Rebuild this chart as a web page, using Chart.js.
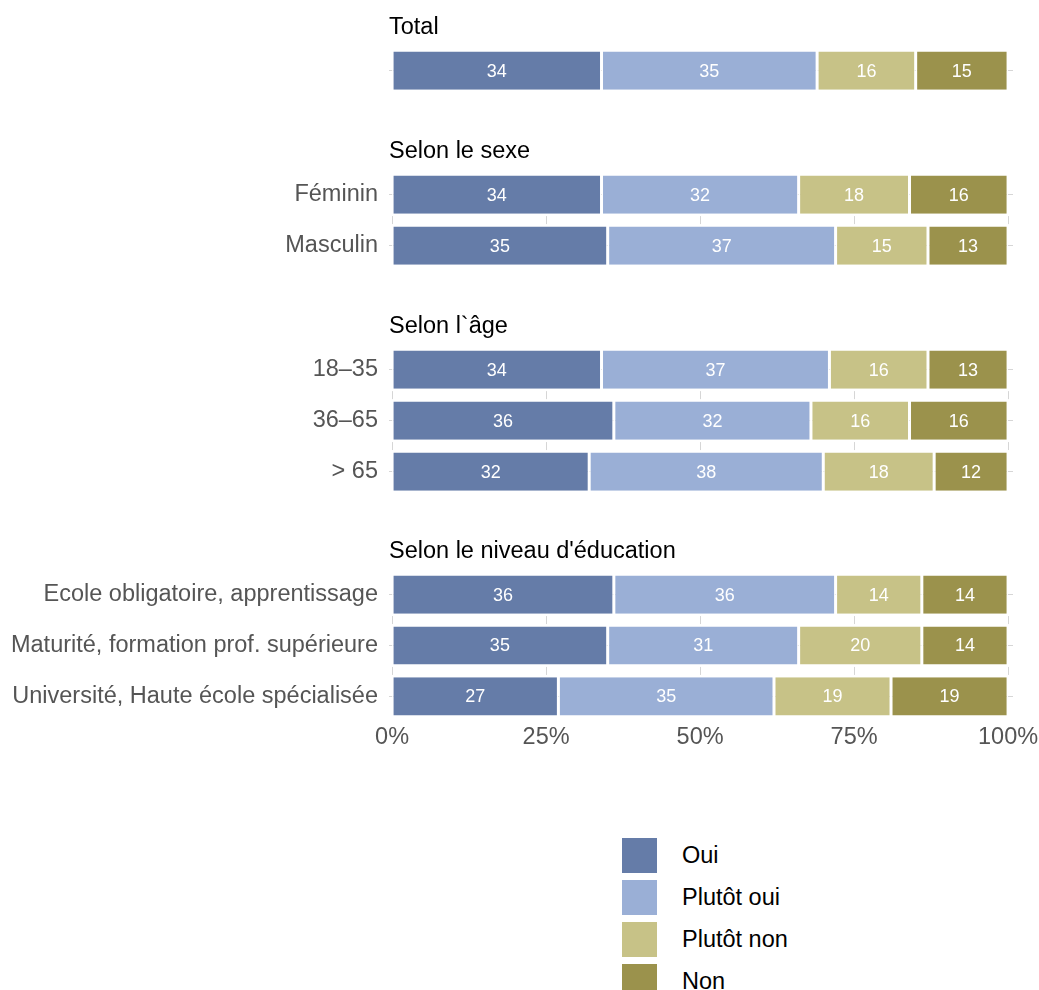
<!DOCTYPE html>
<html>
<head>
<meta charset="utf-8">
<script src="https://cdn.jsdelivr.net/npm/chart.js@4.4.0/dist/chart.umd.min.js"></script>
<style>
  body { margin: 0; background: #fff; width: 1039px; height: 990px; position: relative; overflow: hidden;
         font-family: "Liberation Sans", Arial, sans-serif; }
  canvas { position: absolute; left: 0; }
  #legend { position: absolute; left: 622px; top: 834px; }
  .item { display: flex; align-items: center; height: 42px; font-size: 23.5px; color: #000; }
  .sw { width: 35px; height: 35px; margin-right: 25px; }
</style>
</head>
<body>
<canvas id="f0"></canvas>
<canvas id="f1"></canvas>
<canvas id="f2"></canvas>
<canvas id="f3"></canvas>
<div id="legend"></div>
<script>
// donnees
const facetTitles = ["Total", "Selon le sexe", "Selon l`âge", "Selon le niveau d'éducation"];
const rowLabels = [
    [""],
    ["Féminin", "Masculin"],
    ["18–35", "36–65", "> 65"],
    ["Ecole obligatoire, apprentissage", "Maturité, formation prof. supérieure", "Université, Haute école spécialisée"]
];
const seriesNames = ["Oui", "Plutôt oui", "Plutôt non", "Non"];
const oui       = [[34], [34, 35], [34, 36, 32], [36, 35, 27]];
const plutotOui = [[35], [32, 37], [37, 32, 38], [36, 31, 35]];
const plutotNon = [[16], [18, 15], [16, 16, 18], [14, 20, 19]];
const non       = [[15], [16, 13], [13, 16, 12], [14, 14, 19]];
const xTicks = [0, 25, 50, 75, 100];

const seriesValues = [oui, plutotOui, plutotNon, non];
const seriesColors = ['#657ca8', '#9aafd6', '#c7c287', '#9b924c'];

const FONT = '"Liberation Sans", Arial, sans-serif';
const facetTops = [7, 131, 306, 531];
const ROW = 51;
const TITLE_BLOCK = 38.2;
const AXIS_BLOCK = 32;

// petits traits de grille visibles entre les barres
const gapGrid = {
    id: 'gapGrid',
    beforeDatasetsDraw(chart) {
        const { ctx, scales: { x, y } } = chart;
        const n = chart.data.labels.length;
        ctx.save();
        ctx.strokeStyle = '#d6d6d6';
        ctx.lineWidth = 1;
        for (let i = 0; i < n - 1; i++) {
            const mid = (y.getPixelForValue(i) + y.getPixelForValue(i + 1)) / 2;
            xTicks.forEach(v => {
                const px = Math.round(x.getPixelForValue(v)) + 0.5;
                ctx.beginPath();
                ctx.moveTo(px, mid - 4);
                ctx.lineTo(px, mid + 4);
                ctx.stroke();
            });
        }
        ctx.restore();
    }
};

// valeurs au centre des segments
const valueLabels = {
    id: 'valueLabels',
    afterDatasetsDraw(chart) {
        const ctx = chart.ctx;
        ctx.save();
        ctx.font = '18px ' + FONT;
        ctx.fillStyle = '#fff';
        ctx.textAlign = 'center';
        ctx.textBaseline = 'middle';
        chart.data.datasets.forEach((ds, i) => {
            chart.getDatasetMeta(i).data.forEach((bar, j) => {
                const { x, y, base } = bar.getProps(['x', 'y', 'base'], true);
                ctx.fillText(ds.data[j], (x + base) / 2, y + 1);
            });
        });
        ctx.restore();
    }
};

const noPad = scale => {
    scale.paddingTop = 0;
    scale.paddingBottom = 0;
    scale.paddingLeft = 0;
    scale.paddingRight = 0;
};

facetTitles.forEach((title, f) => {
    const canvas = document.getElementById('f' + f);
    const last = f === facetTitles.length - 1;
    const n = rowLabels[f].length;
    canvas.width = 1039;
    canvas.height = Math.round(TITLE_BLOCK + n * ROW + (last ? AXIS_BLOCK : 0));
    canvas.style.top = facetTops[f] + 'px';

    new Chart(canvas, {
        type: 'bar',
        data: {
            labels: rowLabels[f],
            datasets: seriesNames.map((name, s) => ({
                label: name,
                data: seriesValues[s][f],
                backgroundColor: seriesColors[s],
                borderColor: '#fff',
                borderWidth: { left: 1.5, right: 1.5, top: 0, bottom: 0 },
                borderSkipped: false,
                barPercentage: 0.75,
                categoryPercentage: 1,
            }))
        },
        options: {
            indexAxis: 'y',
            responsive: false,
            animation: false,
            layout: { padding: { left: 0, right: 26, top: 0, bottom: 0 } },
            plugins: {
                legend: { display: false },
                tooltip: { enabled: false },
                title: {
                    display: true,
                    text: title,
                    align: 'start',
                    fullSize: false,
                    color: '#000',
                    font: { family: FONT, size: 23.5, weight: 'normal', lineHeight: 1.2 },
                    padding: { top: 6, bottom: 4 },
                },
            },
            scales: {
                x: {
                    stacked: true,
                    min: -0.5,
                    max: 100.8,
                    display: last,
                    afterBuildTicks: scale => { scale.ticks = xTicks.map(v => ({ value: v })); },
                    afterFit: noPad,
                    grid: { display: false, drawTicks: false },
                    border: { display: false },
                    ticks: {
                        callback: v => v + '%',
                        color: '#555',
                        font: { family: FONT, size: 23.5 },
                        padding: 2,
                        maxRotation: 0,
                        autoSkip: false,
                    },
                },
                y: {
                    stacked: true,
                    afterFit: scale => { noPad(scale); scale.width = 389; },
                    grid: { offset: false, drawTicks: false, color: '#d6d6d6' },
                    border: { display: false },
                    ticks: { color: '#555', font: { family: FONT, size: 23.5 }, padding: 11 },
                },
            },
        },
        plugins: [gapGrid, valueLabels],
    });
});

// legende
const legend = document.getElementById('legend');
seriesNames.forEach((name, s) => {
    const item = document.createElement('div');
    item.className = 'item';
    const sw = document.createElement('div');
    sw.className = 'sw';
    sw.style.background = seriesColors[s];
    const label = document.createElement('span');
    label.textContent = name;
    item.appendChild(sw);
    item.appendChild(label);
    legend.appendChild(item);
});
</script>
</body>
</html>
